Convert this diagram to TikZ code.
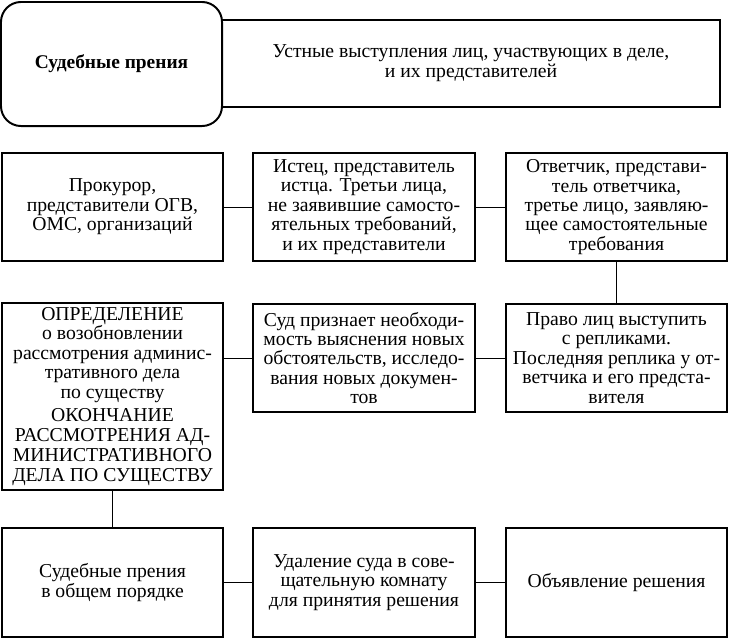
\documentclass[tikz,border=0pt]{standalone}
\usepackage{fontspec}
\setmainfont{Liberation Serif}
\usetikzlibrary{positioning}
\tikzset{
  titlebox/.style={draw, rounded corners=0.5cm, line width=1.4pt, fill=white, minimum width=5.525cm, minimum height=3.1cm, align=center, font=\fontsize{13.8}{15}\selectfont\bfseries},
  widebox/.style={draw, line width=1.4pt, fill=white, minimum width=12.45cm, minimum height=2.175cm, align=center},
  stagebox/.style={draw, line width=1.4pt, fill=white, minimum width=5.53cm, minimum height=2.72cm, align=center, inner sep=1pt},
  link/.style={line width=0.7pt}
}

\begin{document}
\begin{tikzpicture}[x=0.025cm, y=-0.025cm, every node/.style={font=\fontsize{14}{13.8}\selectfont}]
  \useasboundingbox (0,0) rectangle (729,639);
  % top
  \node[widebox] (speech) at (471,63.5) {Устные выступления лиц, участвующих в деле,\\[0.5pt] и их представителей};
  \node[titlebox] (debate) at (111.5,64) {Судебные прения};
  % participants
  \node[stagebox] (prosecutor) at (112.5,207) {Прокурор,\\ представители ОГВ,\\ ОМС, организаций};
  \node[stagebox] (plaintiff) at (364,207) {Истец, представитель\\ истца. Третьи лица,\\ не заявившие самосто-\\ ятельных требований,\\ и их представители};
  \node[stagebox] (defendant) at (616.5,207) {Ответчик, представи-\\ тель ответчика,\\ третье лицо, заявляю-\\ щее самостоятельные\\ требования};
  \draw[link] (prosecutor) -- (plaintiff);
  \draw[link] (plaintiff) -- (defendant);
  % replies
  \node[stagebox, minimum height=4.675cm] (resume) at (112.5,396.5) {ОПРЕДЕЛЕНИЕ\\ о возобновлении\\ рассмотрения админис-\\ тративного дела\\ по существу\\[2.5pt] ОКОНЧАНИЕ\\[0.5pt] РАССМОТРЕНИЯ АД-\\[0.5pt] МИНИСТРАТИВНОГО\\[0.5pt] ДЕЛА ПО СУЩЕСТВУ};
  \node[stagebox] (newfacts) at (364,358) {Суд признает необходи-\\ мость выяснения новых\\ обстоятельств, исследо-\\ вания новых докумен-\\ тов};
  \node[stagebox] (replies) at (616.5,358) {Право лиц выступить\\ с репликами.\\ Последняя реплика у от-\\ ветчика и его предста-\\ вителя};
  \draw[link] (defendant) -- (replies);
  \draw[link] (newfacts) -- (replies);
  \draw[link] (newfacts.west) -- (newfacts.west -| resume.east);
  % decision
  \node[stagebox] (general) at (112.5,582.5) {Судебные прения\\ в общем порядке};
  \node[stagebox] (retire) at (364,582.5) {Удаление суда в сове-\\ щательную комнату\\ для принятия решения};
  \node[stagebox] (verdict) at (616.5,582.5) {Объявление решения};
  \draw[link] (resume) -- (general);
  \draw[link] (general) -- (retire);
  \draw[link] (retire) -- (verdict);
\end{tikzpicture}
\end{document}
